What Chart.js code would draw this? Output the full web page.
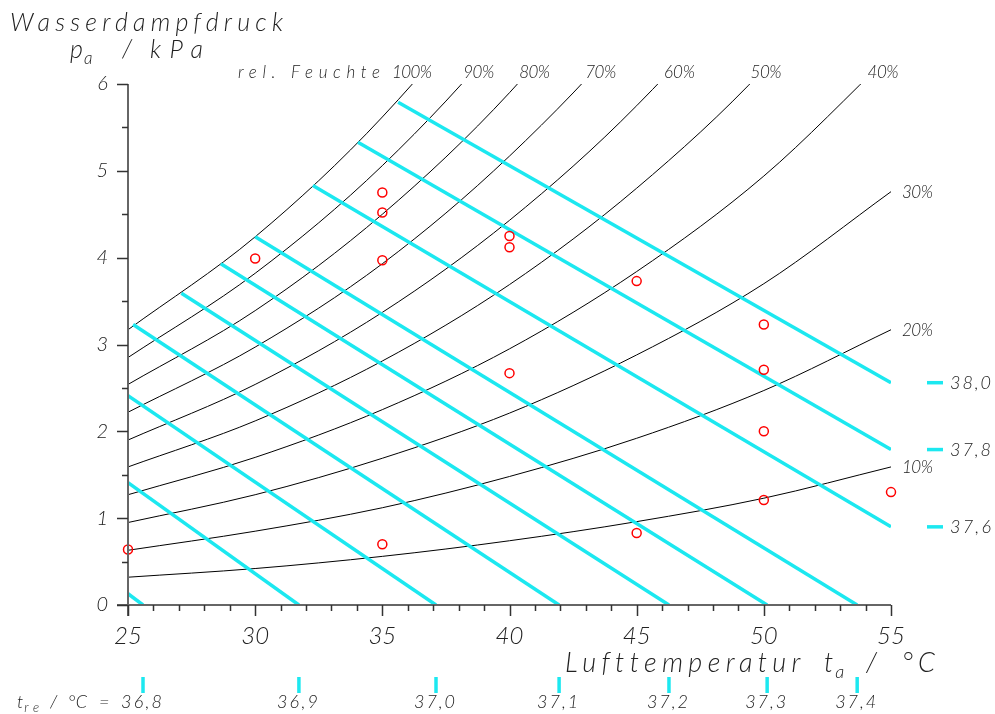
<!DOCTYPE html>
<html>
<head>
<meta charset="utf-8">
<script src="https://cdn.jsdelivr.net/npm/chart.js@4.4.1/dist/chart.umd.min.js"></script>
<style>
  body { margin: 0; background: #fff; }
  #chart_canvas { display: block; }
</style>
</head>
<body>
<canvas id="chart_canvas" width="995" height="714"></canvas>
<script>
// air temperature grid used by the humidity curves (°C)
const temps = [25, 30, 35, 40, 45, 50, 55];

// water vapour pressure along each rel. humidity curve (kPa)
const rh100 = [3.17, 4.24, 5.62, 7.38, 9.59, 12.34, 15.85];
const rh90 = [2.85, 3.82, 5.06, 6.64, 8.63, 11.11, 14.27];
const rh80 = [2.54, 3.39, 4.50, 5.90, 7.67, 9.87, 12.68];
const rh70 = [2.22, 2.97, 3.93, 5.17, 6.71, 8.64, 11.10];
const rh60 = [1.90, 2.54, 3.37, 4.43, 5.75, 7.40, 9.51];
const rh50 = [1.59, 2.12, 2.81, 3.69, 4.80, 6.17, 7.93];
const rh40 = [1.27, 1.70, 2.25, 2.95, 3.84, 4.94, 6.34];
const rh30 = [0.95, 1.27, 1.69, 2.21, 2.88, 3.70, 4.76];
const rh20 = [0.63, 0.85, 1.12, 1.48, 1.92, 2.47, 3.17];
const rh10 = [0.32, 0.42, 0.56, 0.74, 0.96, 1.23, 1.59];
const rhCurves = [rh100, rh90, rh80, rh70, rh60, rh50, rh40, rh30, rh20, rh10];
const rhLabels = ["100%", "90%", "80%", "70%", "60%", "50%", "40%", "30%", "20%", "10%"];
// temperature where the curves 100%..40% leave the top of the plot
const rhTopX = [36.17, 38.1, 40.3, 42.9, 46.0, 49.4, 54.0];

// rectal temperature isolines (start / end point of each line)
const trLabels = ["36,8", "36,9", "37,0", "37,1", "37,2", "37,3", "37,4", "37,6", "37,8", "38,0"];
const trStartX = [25, 25, 25, 25.2, 27.1, 28.65, 30.0, 32.27, 34.04, 35.62];
const trStartY = [0.13, 1.41, 2.41, 3.23, 3.59, 3.93, 4.24, 4.83, 5.33, 5.79];
const trEndX = [25.59, 31.72, 37.11, 41.95, 46.27, 50.13, 53.67, 55, 55, 55];
const trEndY = [0, 0, 0, 0, 0, 0, 0, 0.90, 1.79, 2.56];

// measured points
const measX = [25, 30, 35, 35, 35, 35, 40, 40, 40, 45, 45, 50, 50, 50, 50, 55];
const measY = [0.64, 3.99, 4.75, 4.52, 3.97, 0.70, 4.25, 4.12, 2.67, 3.73, 0.83, 3.23, 2.71, 2.00, 1.21, 1.30];

const FONT = "Lato, 'DejaVu Sans', sans-serif";
const INK = "#222";
const CYAN = "#1ce8f0";

function font_str(size){
  return `italic 300 ${size}px ${FONT}`;
}

// draws text starting at x, optionally stretched to a width via letter spacing
function put_text(ctx, str, x, y, size, width){
  ctx.font = font_str(size);
  ctx.letterSpacing = "0px";
  let sp = 0;
  if(width){
    const w = ctx.measureText(str).width;
    sp = (width - w) / Math.max(str.length - 1, 1);
  }
  ctx.letterSpacing = sp + "px";
  ctx.textAlign = "left";
  ctx.fillText(str, x, y);
  const w2 = ctx.measureText(str).width - sp;
  ctx.letterSpacing = "0px";
  return x + w2;
}

const decorations = {
  id: "decorations",
  afterDraw(chart){
    const ctx = chart.ctx;
    const xs = chart.scales.x;
    const ys = chart.scales.y;
    const area = chart.chartArea;
    ctx.save();

    // axes
    ctx.strokeStyle = "#666";
    ctx.lineWidth = 2;
    ctx.beginPath();
    ctx.moveTo(area.left - 11, area.bottom);
    ctx.lineTo(area.right, area.bottom);
    ctx.moveTo(area.left, area.top);
    ctx.lineTo(area.left, area.bottom + 11);
    ctx.stroke();

    ctx.strokeStyle = "#333";
    ctx.lineWidth = 1.5;
    ctx.beginPath();
    for(let v = 25; v <= 55; v++){
      const px = Math.round(xs.getPixelForValue(v)) + 0.5;
      const len = v % 5 === 0 ? 11 : 6;
      ctx.moveTo(px, area.bottom);
      ctx.lineTo(px, area.bottom + len);
    }
    for(let v = 0; v <= 6; v += 0.5){
      const py = Math.round(ys.getPixelForValue(v)) + 0.5;
      const len = v % 1 === 0 ? 11 : 6;
      ctx.moveTo(area.left, py);
      ctx.lineTo(area.left - len, py);
    }
    ctx.stroke();

    ctx.fillStyle = INK;
    ctx.textBaseline = "alphabetic";

    // axis titles
    put_text(ctx, "Wasserdampfdruck", 10, 31, 25, 273);
    let px = put_text(ctx, "p", 70, 58, 25);
    put_text(ctx, "a", px + 1, 64, 17);
    put_text(ctx, "/", 122, 58, 25);
    put_text(ctx, "kPa", 150, 58, 25, 53);

    put_text(ctx, "Lufttemperatur", 565, 672, 27, 235);
    px = put_text(ctx, "t", 824, 672, 27);
    put_text(ctx, "a", px + 2, 678, 18);
    put_text(ctx, "/", 866, 672, 27);
    put_text(ctx, "°C", 902, 672, 27, 33);

    // rel. humidity labels
    put_text(ctx, "rel. Feuchte", 238, 78, 17, 142);
    for(let i = 0; i < rhTopX.length; i++){
      const cx = xs.getPixelForValue(rhTopX[i]);
      if(i === 0){
        put_text(ctx, rhLabels[i], cx - 20, 78, 17, 40);
      } else {
        put_text(ctx, rhLabels[i], cx + 2, 78, 17, 31);
      }
    }
    for(let i = rhTopX.length; i < rhCurves.length; i++){
      const c = rhCurves[i];
      const py = ys.getPixelForValue(c[c.length - 1]);
      put_text(ctx, rhLabels[i], area.right + 11, py + 6, 17, 31);
    }

    // rectal temperature labels
    ctx.strokeStyle = CYAN;
    ctx.lineWidth = 3.5;
    for(let i = 0; i < trLabels.length; i++){
      if(trEndY[i] === 0){
        const tx = xs.getPixelForValue(trEndX[i]);
        ctx.beginPath();
        ctx.moveTo(tx, 677);
        ctx.lineTo(tx, 693);
        ctx.stroke();
        ctx.fillStyle = INK;
        put_text(ctx, trLabels[i], tx - 22, 708, 18, 41);
      } else {
        const ty = ys.getPixelForValue(trEndY[i]);
        ctx.beginPath();
        ctx.moveTo(927, ty);
        ctx.lineTo(943, ty);
        ctx.stroke();
        ctx.fillStyle = INK;
        put_text(ctx, trLabels[i], 950, ty + 6, 18, 41);
      }
    }
    ctx.fillStyle = INK;
    px = put_text(ctx, "t", 17, 708, 18);
    put_text(ctx, "re", px + 1, 712, 13, 15);
    put_text(ctx, "/", 50, 708, 18);
    put_text(ctx, "°C", 68, 708, 18, 19);
    put_text(ctx, "=", 99, 708, 18);

    ctx.restore();
  }
};

function build_datasets(){
  let datasets = [];

  datasets.push({
    data: measX.map((x, i) => ({ x: x, y: measY[i] })),
    showLine: false,
    pointRadius: 4.5,
    pointStyle: "circle",
    pointBorderColor: "#ff0000",
    pointBackgroundColor: "rgba(0,0,0,0)",
    pointBorderWidth: 1.5,
    clip: false,
    order: 0
  });

  for(let i = 0; i < trLabels.length; i++){
    datasets.push({
      data: [{ x: trStartX[i], y: trStartY[i] }, { x: trEndX[i], y: trEndY[i] }],
      showLine: true,
      borderColor: CYAN,
      borderWidth: 3.5,
      pointRadius: 0,
      order: 1
    });
  }

  for(let i = 0; i < rhCurves.length; i++){
    datasets.push({
      data: temps.map((t, j) => ({ x: t, y: rhCurves[i][j] })),
      showLine: true,
      borderColor: "#000",
      borderWidth: 1,
      pointRadius: 0,
      cubicInterpolationMode: "monotone",
      order: 2
    });
  }
  return datasets;
}

const ctx_1 = document.getElementById("chart_canvas");

const chart_1 = new Chart(ctx_1, {
  type: "scatter",
  data: { datasets: build_datasets() },
  options: {
    responsive: false,
    animation: false,
    layout: { padding: { left: 0, top: 84, right: 104, bottom: 0 } },
    plugins: { legend: { display: false }, tooltip: { enabled: false } },
    scales: {
      x: {
        type: "linear",
        min: 25,
        max: 55,
        grid: { display: false, drawTicks: false },
        border: { display: false },
        ticks: {
          stepSize: 5,
          padding: 17,
          color: INK,
          font: { family: FONT, size: 24, style: "italic", weight: 300 }
        },
        afterFit: (s) => { s.height = 109; }
      },
      y: {
        type: "linear",
        min: 0,
        max: 6,
        grid: { display: false, drawTicks: false },
        border: { display: false },
        ticks: {
          stepSize: 1,
          padding: 20,
          color: INK,
          font: { family: FONT, size: 20, style: "italic", weight: 300 }
        },
        afterFit: (s) => { s.width = 128; }
      }
    }
  },
  plugins: [decorations]
});
</script>
</body>
</html>
